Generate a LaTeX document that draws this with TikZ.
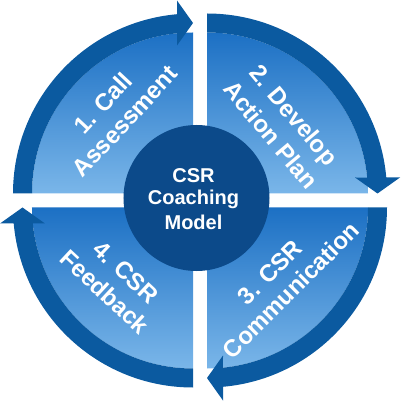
\documentclass[tikz,border=0pt]{standalone}
\usepackage{fontspec}
\setmainfont{Liberation Sans}
\definecolor{band}{RGB}{11,90,160}
\definecolor{filltop}{RGB}{28,112,196}
\definecolor{fillbot}{RGB}{122,182,233}
\definecolor{hub}{RGB}{12,74,138}
\tikzset{
  quadfill/.style={top color=filltop, bottom color=fillbot},
  bandarrow/.style={fill=band, draw=none},
  steplabel/.style={text=white, font=\bfseries\fontsize{24}{24}\selectfont, inner sep=0pt, text height=17pt, text depth=0pt, anchor=center},
  hublabel/.style={text=white, font=\bfseries\fontsize{20}{20}\selectfont, inner sep=0pt, anchor=base}
}
\begin{document}
\begin{tikzpicture}[x=1pt,y=1pt]
\useasboundingbox (-200,-200.5) rectangle (200,200.5);
% quadrant fills
\shade[quadfill] (-7,7) -- ++(180:161) arc[start angle=180,end angle=90,radius=161] -- cycle;
\shade[quadfill] (7,7) -- ++(90:161) arc[start angle=90,end angle=0,radius=161] -- cycle;
\shade[quadfill] (7,-7) -- ++(0:161) arc[start angle=0,end angle=-90,radius=161] -- cycle;
\shade[quadfill] (-7,-7) -- ++(270:161) arc[start angle=270,end angle=180,radius=161] -- cycle;
% bands with arrowheads
\foreach \k in {0,1,2,3}{
  \begin{scope}[rotate=-90*\k, shift={(-7,7)}]
    \path[bandarrow] (180:180) arc[start angle=180,end angle=95.1,radius=180]
      -- (-16,193) -- (0,170.5) -- (-16,148) -- (95.7:161)
      arc[start angle=95.7,end angle=180,radius=161] -- cycle;
  \end{scope}
}
% hub
\fill[hub] (-3.5,2.5) circle[radius=73];
\node[hublabel] (h1) at (-6.5,17.5) {CSR};
\node[hublabel] (h2) at (-6.5,-4.5) {Coaching};
\node[hublabel] (h3) at (-6.5,-29.5) {Model};
% step labels
\node[steplabel, rotate=47] (s1a) at (-97,97.5) {1. Call};
\node[steplabel, rotate=47] (s1b) at (-75,79.5) {Assessment};
\node[steplabel, rotate=-50] (s2a) at (94,85.5) {2. Develop};
\node[steplabel, rotate=-50] (s2b) at (71,65.5) {Action Plan};
\node[steplabel, rotate=45] (s3a) at (70,-71.5) {3. CSR};
\node[steplabel, rotate=45] (s3b) at (91,-89.5) {Communication};
\node[steplabel, rotate=-43] (s4a) at (-74,-71.5) {4. CSR};
\node[steplabel, rotate=-43] (s4b) at (-95,-91.5) {Feedback};
\end{tikzpicture}
\end{document}
